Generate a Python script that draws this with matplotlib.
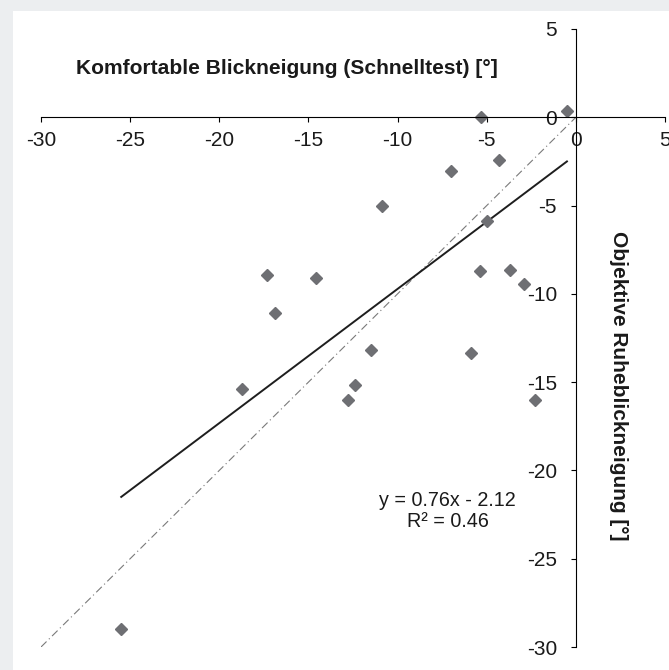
import numpy as np
import matplotlib.pyplot as plt
from matplotlib.patches import Rectangle

plt.rcParams['font.family'] = ['Liberation Sans', 'DejaVu Sans']
plt.rcParams['axes.unicode_minus'] = False

# Komfortable Blickneigung (Schnelltest) vs. objektive Ruheblickneigung, in Grad
schnelltest = [-0.5, -5.3, -4.3, -7.0, -5.0, -10.9, -17.3, -14.6, -16.9, -5.4,
               -3.7, -2.9, -11.5, -5.9, -18.7, -12.4, -12.8, -2.3, -25.5]
ruhe = [0.35, 0.0, -2.4, -3.05, -5.9, -5.05, -8.95, -9.1, -11.1, -8.7,
        -8.65, -9.45, -13.2, -13.35, -15.4, -15.15, -16.0, -16.0, -29.0]

# Trendlinie laut Diagramm
slope = 0.76
intercept = -2.12
r_squared = 0.46

# Winkelhalbierende y = x
identity = [-30, 0]

fig = plt.figure(figsize=(6.69, 6.70), dpi=100, facecolor='#eceef0')
fig.patches.append(Rectangle((13 / 669, 0), 1, 1 - 11 / 670, transform=fig.transFigure,
                             facecolor='white', edgecolor='none', zorder=-10))

ax = fig.add_axes([41 / 669, 23 / 670, 624 / 669, 618 / 670])
ax.set_facecolor('none')

ax.plot(identity, identity, color='#7a7a7a', lw=0.8, linestyle=(0, (7, 3, 1, 3)))

x_fit = np.array([min(schnelltest), max(schnelltest)])
ax.plot(x_fit, slope * x_fit + intercept, color='#1e1e1e', lw=1.4)

ax.plot(schnelltest, ruhe, linestyle='none', marker='D', markersize=6.2,
        color='#6e6f73', markeredgecolor='#6e6f73')

ax.set_xlim(-30, 5)
ax.set_ylim(-30, 5)
ax.set_xticks(np.arange(-30, 6, 5))
ax.set_yticks(np.arange(-30, 6, 5))

for side in ['top', 'right']:
    ax.spines[side].set_visible(False)
ax.spines['left'].set_position(('data', 0))
ax.spines['bottom'].set_position(('data', 0))
for side in ['left', 'bottom']:
    ax.spines[side].set_linewidth(0.8)
    ax.spines[side].set_color('black')

ax.tick_params(axis='x', direction='out', length=3.6, width=0.8, pad=6.5, labelsize=15, colors='black')
ax.tick_params(axis='y', direction='out', length=3.6, width=0.8, pad=10, labelsize=15, colors='black')
for lbl in ax.get_xticklabels() + ax.get_yticklabels():
    lbl.set_color('#1a1a1a')

ax.text(-16.2, 2.76, 'Komfortable Blickneigung (Schnelltest) [°]', fontsize=15.1,
        fontweight='bold', ha='center', va='center', color='#1a1a1a')
ax.text(2.4, -15.2, 'Objektive Ruheblickneigung [°]', fontsize=15,
        rotation=-90, fontweight='bold', ha='center', va='center', color='#1a1a1a')

ax.text(-7.2, -22.3, f'y = {slope:.2f}x - {abs(intercept):.2f}\nR² = {r_squared:.2f}',
        fontsize=14.2, ha='center', va='center', linespacing=1.1, color='#1a1a1a')

fig.savefig('out.png', dpi=100)
